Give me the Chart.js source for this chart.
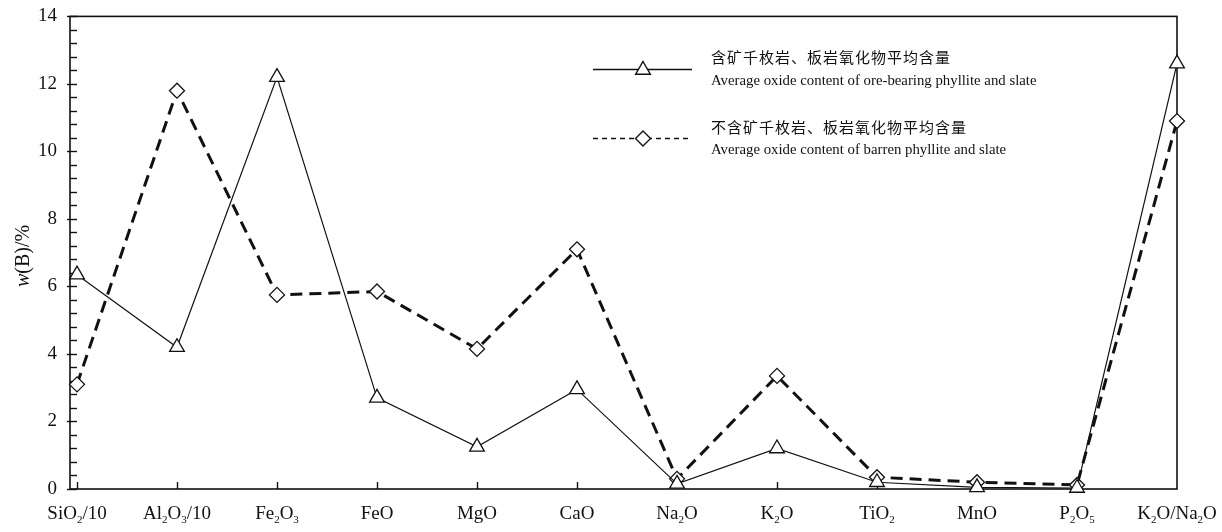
<!DOCTYPE html>
<html><head><meta charset="utf-8">
<script src="https://cdn.jsdelivr.net/npm/chart.js@4.4.1/dist/chart.umd.min.js"></script>
<style>html,body{margin:0;padding:0;background:#fff;}canvas{display:block;}</style>
</head><body>
<canvas id="c" width="1222" height="532"></canvas>
<script>
// ---- data ----
const categories = ['SiO_2/10','Al_2O_3/10','Fe_2O_3','FeO','MgO','CaO','Na_2O','K_2O','TiO_2','MnO','P_2O_5','K_2O/Na_2O'];
const oreBearing = [6.35, 4.2, 12.2, 2.7, 1.25, 2.95, 0.15, 1.2, 0.2, 0.05, 0.03, 12.6];
const barren     = [3.1, 11.8, 5.75, 5.85, 4.15, 7.1, 0.3, 3.35, 0.35, 0.2, 0.12, 10.9];
const yMajorTicks = [0, 2, 4, 6, 8, 10, 12, 14];
const yMinorStep = 0.4;
const legendOreCN = '含矿千枚岩、板岩氧化物平均含量';
const legendOreEN = 'Average oxide content of ore-bearing phyllite and slate';
const legendBarCN = '不含矿千枚岩、板岩氧化物平均含量';
const legendBarEN = 'Average oxide content of barren phyllite and slate';
const yTitleItalic = 'w';
const yTitleRest = '(B)/%';

const INK = '#111';
const SERIF = '"Liberation Serif", "Times New Roman", serif';

function drawRich(ctx, text, x, y, size) {
  const segs = [];
  let i = 0;
  while (i < text.length) {
    if (text[i] === '_') { segs.push({t: text[i+1], sub: true}); i += 2; }
    else { let j = i; while (j < text.length && text[j] !== '_') j++; segs.push({t: text.slice(i, j), sub: false}); i = j; }
  }
  const mainFont = size + 'px ' + SERIF;
  const subFont = Math.round(size * 0.6) + 'px ' + SERIF;
  let w = 0;
  segs.forEach(s => { ctx.font = s.sub ? subFont : mainFont; s.w = ctx.measureText(s.t).width; w += s.w; });
  let cx = x - w / 2;
  ctx.textAlign = 'left';
  ctx.textBaseline = 'alphabetic';
  segs.forEach(s => { ctx.font = s.sub ? subFont : mainFont; ctx.fillText(s.t, cx, s.sub ? y + size * 0.22 : y); cx += s.w; });
}

function triangle(ctx, x, y, r) {
  ctx.beginPath();
  ctx.moveTo(x, y - r);
  ctx.lineTo(x + r * 0.866, y + r * 0.5);
  ctx.lineTo(x - r * 0.866, y + r * 0.5);
  ctx.closePath();
  ctx.fillStyle = '#fff'; ctx.fill();
  ctx.lineWidth = 1.4; ctx.strokeStyle = INK; ctx.stroke();
}
function diamond(ctx, x, y, r) {
  ctx.beginPath();
  ctx.moveTo(x, y - r); ctx.lineTo(x + r, y); ctx.lineTo(x, y + r); ctx.lineTo(x - r, y);
  ctx.closePath();
  ctx.fillStyle = '#fff'; ctx.fill();
  ctx.lineWidth = 1.4; ctx.strokeStyle = INK; ctx.stroke();
}

const framePlugin = {
  id: 'frame',
  beforeDatasetsDraw(chart) {
    const {ctx, chartArea: a, scales: {x, y}} = chart;
    ctx.save();
    ctx.strokeStyle = INK;
    ctx.lineWidth = 1.6;
    ctx.strokeRect(a.left, a.top, a.right - a.left, a.bottom - a.top);
    ctx.lineWidth = 1.4;
    for (let k = 0; k * yMinorStep <= 14 + 1e-9; k++) {
      const v = k * yMinorStep;
      const py = Math.round(y.getPixelForValue(v)) + 0.5;
      const major = yMajorTicks.some(t => Math.abs(t - v) < 1e-6);
      ctx.beginPath();
      ctx.moveTo(a.left - (major ? 3 : 0), py);
      ctx.lineTo(a.left + 7, py);
      ctx.stroke();
    }
    for (let i = 0; i < categories.length - 1; i++) {
      const px = Math.round(x.getPixelForValue(i)) + 0.5;
      ctx.beginPath();
      ctx.moveTo(px, a.bottom);
      ctx.lineTo(px, a.bottom - 7);
      ctx.stroke();
    }
    ctx.restore();
  },
  afterDraw(chart) {
    const {ctx, scales: {x}} = chart;
    ctx.save();
    ctx.fillStyle = INK;
    categories.forEach((c, i) => drawRich(ctx, c, x.getPixelForValue(i), 519, 19));
    // y title
    ctx.save();
    ctx.translate(29, 256);
    ctx.rotate(-Math.PI / 2);
    const fs = 20;
    ctx.font = 'italic ' + fs + 'px ' + SERIF;
    const w1 = ctx.measureText(yTitleItalic).width;
    ctx.font = fs + 'px ' + SERIF;
    const w2 = ctx.measureText(yTitleRest).width;
    ctx.textBaseline = 'alphabetic';
    ctx.textAlign = 'left';
    const sx = -(w1 + w2) / 2;
    ctx.font = 'italic ' + fs + 'px ' + SERIF;
    ctx.fillText(yTitleItalic, sx, 0);
    ctx.font = fs + 'px ' + SERIF;
    ctx.fillText(yTitleRest, sx + w1, 0);
    ctx.restore();
    // legend
    ctx.strokeStyle = INK;
    ctx.lineWidth = 1.3;
    ctx.setLineDash([]);
    ctx.beginPath(); ctx.moveTo(593, 69.5); ctx.lineTo(692, 69.5); ctx.stroke();
    triangle(ctx, 643, 70, 8.5);
    ctx.lineWidth = 1.6;
    ctx.setLineDash([5, 4]);
    ctx.beginPath(); ctx.moveTo(593, 138.5); ctx.lineTo(692, 138.5); ctx.stroke();
    ctx.setLineDash([]);
    diamond(ctx, 643, 138.5, 7.5);
    ctx.fillStyle = INK;
    ctx.textAlign = 'left';
    ctx.textBaseline = 'middle';
    try { ctx.letterSpacing = '1px'; } catch (e) {}
    ctx.font = '15px "Noto Sans CJK SC"';
    ctx.fillText(legendOreCN, 711, 57);
    ctx.fillText(legendBarCN, 711, 127);
    try { ctx.letterSpacing = '0px'; } catch (e) {}
    ctx.font = '14.8px ' + SERIF;
    ctx.fillText(legendOreEN, 711, 81);
    ctx.fillText(legendBarEN, 711, 150);
    ctx.restore();
  }
};

new Chart(document.getElementById('c'), {
  type: 'line',
  data: {
    datasets: [
      {
        label: legendOreEN,
        data: oreBearing.map((v, i) => ({x: i, y: v})),
        borderColor: INK, borderWidth: 1.2, tension: 0,
        pointStyle: 'triangle', pointRadius: 8.5, pointHoverRadius: 8.5,
        pointBackgroundColor: '#fff', pointBorderColor: INK, pointBorderWidth: 1.3,
        clip: false
      },
      {
        label: legendBarEN,
        data: barren.map((v, i) => ({x: i, y: v})),
        borderColor: INK, borderWidth: 3, borderDash: [12, 7], tension: 0,
        pointStyle: 'rectRot', pointRadius: 7.5, pointHoverRadius: 7.5,
        pointBackgroundColor: '#fff', pointBorderColor: INK, pointBorderWidth: 1.3,
        clip: false
      }
    ]
  },
  options: {
    responsive: false,
    devicePixelRatio: 1,
    animation: false,
    events: [],
    layout: {padding: {top: 9, right: 45, left: 0, bottom: 0}},
    plugins: {legend: {display: false}, tooltip: {enabled: false}},
    scales: {
      x: {
        type: 'linear', min: -0.07, max: 11,
        ticks: {display: false},
        grid: {display: false},
        border: {display: false},
        afterFit(s) { s.height = 43; }
      },
      y: {
        min: 0, max: 14,
        afterBuildTicks(s) { s.ticks = yMajorTicks.map(v => ({value: v})); },
        ticks: {color: INK, font: {family: SERIF, size: 19}, padding: 5, autoSkip: false},
        grid: {display: false},
        border: {display: false},
        afterFit(s) { s.width = 70; }
      }
    }
  },
  plugins: [framePlugin]
});
</script>
</body></html>
